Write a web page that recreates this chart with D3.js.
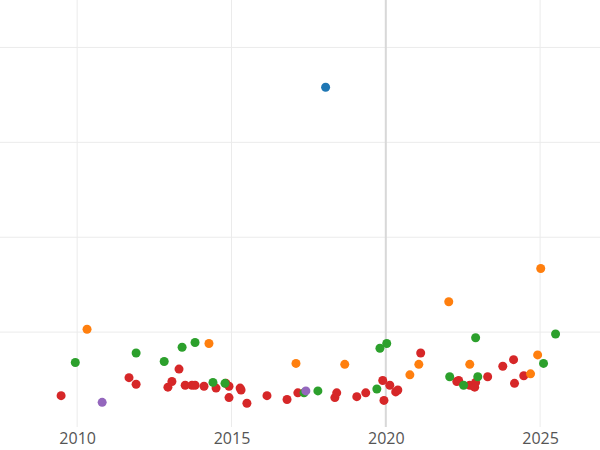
<!DOCTYPE html>
<html><head><meta charset="utf-8">
<script src="https://cdn.jsdelivr.net/npm/d3@7"></script>
<style>body{margin:0;background:#fff}</style></head>
<body><svg id="c" width="600" height="450"></svg>
<script>
const redX=[2009.48,2011.68,2011.91,2012.94,2013.07,2013.30,2013.50,2013.72,2013.82,2014.11,2014.50,2014.82,2014.92,2014.92,2015.28,2015.31,2015.50,2016.15,2016.80,2017.15,2018.35,2018.41,2019.06,2019.35,2019.90,2019.94,2020.13,2020.32,2020.39,2021.13,2022.30,2022.36,2022.72,2022.85,2022.91,2022.88,2023.30,2023.79,2024.14,2024.17,2024.47];
const redY=[0.33,0.52,0.45,0.42,0.48,0.61,0.44,0.44,0.44,0.43,0.41,0.46,0.43,0.31,0.41,0.39,0.25,0.33,0.29,0.36,0.31,0.36,0.32,0.36,0.49,0.28,0.44,0.37,0.39,0.78,0.48,0.49,0.44,0.43,0.47,0.42,0.53,0.64,0.71,0.46,0.54];
const orangeX=[2010.32,2014.27,2017.09,2018.67,2020.78,2021.07,2022.04,2022.72,2024.69,2024.92,2025.02];
const orangeY=[1.03,0.88,0.67,0.66,0.55,0.66,1.32,0.66,0.56,0.76,1.67];
const greenX=[2009.94,2011.91,2012.82,2013.40,2013.82,2014.40,2014.79,2017.35,2017.80,2019.71,2019.81,2020.03,2022.07,2022.52,2022.91,2022.98,2025.11,2025.50];
const greenY=[0.68,0.78,0.69,0.84,0.89,0.47,0.46,0.36,0.38,0.40,0.83,0.88,0.53,0.44,0.94,0.53,0.67,0.98];
const blueX=[2018.05], blueY=[3.58];
const purpleX=[2010.81,2017.41], purpleY=[0.26,0.38];
const xTicks=[2010,2015,2020,2025];
const yGrid=[1,2,3,4];

const svg=d3.select("#c");
const x=d3.scaleLinear().domain([2007.5,2026.94]).range([0,600]);
const y=d3.scaleLinear().domain([0,4.5]).range([427,0]);
const g=svg.append("g");
g.selectAll(".hg").data(yGrid).join("line").attr("x1",0).attr("x2",600)
 .attr("y1",d=>y(d)).attr("y2",d=>y(d)).attr("stroke","#ebebeb");
g.selectAll(".vg").data(xTicks).join("line").attr("y1",0).attr("y2",427)
 .attr("x1",d=>x(d)).attr("x2",d=>x(d)).attr("stroke",d=>d===2020?"#d8d8d8":"#ebebeb").attr("stroke-width",d=>d===2020?2:1);
const ax=svg.append("g").attr("transform","translate(0,427)")
 .call(d3.axisBottom(x).tickValues(xTicks).tickFormat(d3.format("d")).tickSize(0).tickPadding(6));
ax.select(".domain").remove();
ax.selectAll("text").attr("font-family","Open Sans, sans-serif").attr("font-size",16).attr("fill","#555");
const series=[[redX,redY,"#d62728"],[orangeX,orangeY,"#ff7f0e"],[greenX,greenY,"#2ca02c"],[blueX,blueY,"#1f77b4"],[purpleX,purpleY,"#9467bd"]];
series.forEach(([xs,ys,c])=>{
 svg.append("g").selectAll("circle").data(xs.map((v,i)=>[v,ys[i]])).join("circle")
  .attr("cx",d=>x(d[0])).attr("cy",d=>y(d[1])).attr("r",4.5).attr("fill",c);
});
</script></body></html>
